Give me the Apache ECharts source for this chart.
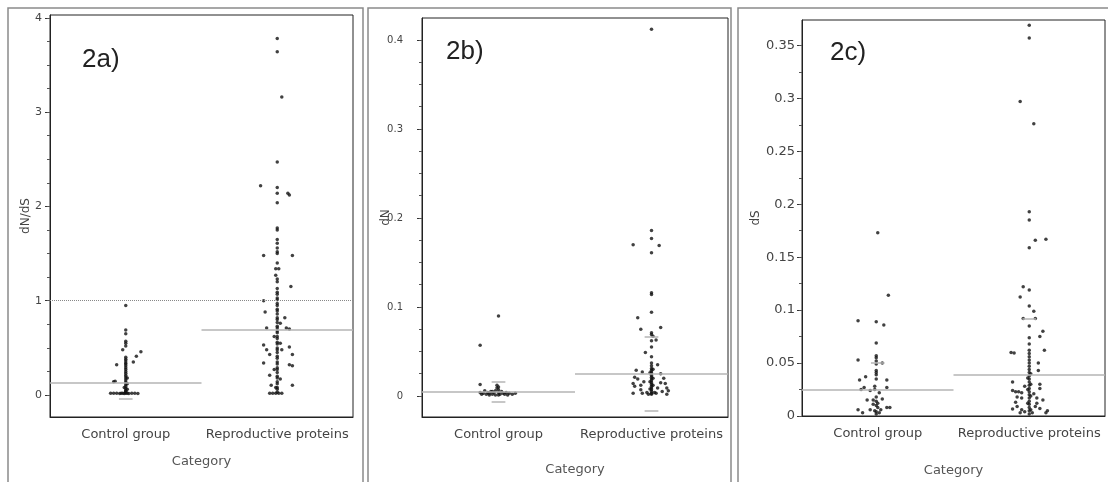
<!DOCTYPE html>
<html>
<head>
<meta charset="utf-8">
<script src="https://cdn.jsdelivr.net/npm/echarts@6/dist/echarts.min.js"></script>
<style>
html, body { margin: 0; background: #fff; }
#main { width: 1108px; height: 482px; }
</style>
</head>
<body>
<div id="main"></div>
<script>
const categories = ["Control group", "Reproductive proteins"];

// each point: [horizontal jitter from the category centre, value]
const ctrlA = [
  [0,0.95],[0,0.69],[0,0.65],[0,0.57],[0,0.55],[0,0.52],[-0.02,0.48],[0.1,0.46],[0.07,0.41],[0.05,0.35],[-0.06,0.32],
  [0,0.40],[0,0.38],[0,0.36],[0,0.34],[0,0.33],[0,0.31],[0,0.29],[0,0.27],[0,0.25],[0,0.23],[0,0.21],[0,0.19],
  [0,0.17],[0,0.15],[0,0.13],[0,0.11],[0,0.09],[0,0.07],[0,0.05],[0,0.04],[0,0.03],
  [0.01,0.18],[0.01,0.12],[-0.01,0.08],[0.01,0.06],[-0.08,0.14],[-0.07,0.145],
  [-0.1,0.018],[-0.08,0.018],[-0.06,0.018],[-0.04,0.016],[-0.03,0.02],[-0.02,0.018],[-0.01,0.015],
  [0,0.018],[0.01,0.02],[0.02,0.016],[0.04,0.018],[0.06,0.018],[0.08,0.017]
];
const repA = [
  [0,3.78],[0,3.64],[0.03,3.16],[0,2.47],[-0.11,2.22],[0,2.2],[0,2.14],[0.07,2.14],[0.08,2.12],[0,2.04],
  [0,1.77],[0,1.75],[0,1.65],[0,1.61],[0,1.56],[0,1.52],[0,1.5],[-0.09,1.48],[0.1,1.48],[0,1.4],
  [-0.01,1.34],[0.01,1.34],[-0.01,1.27],[0,1.23],[0,1.2],[0.09,1.15],
  [0,1.13],[0,1.09],[0,1.07],[0,1.03],[0,1.01],[0,0.97],[0,0.95],[0,0.91],[0,0.89],[0,0.86],[0,0.82],[0,0.8],
  [0,0.77],[0,0.73],[0,0.71],[0,0.68],[0,0.66],[0,0.62],[0,0.6],[0,0.56],[0,0.54],[0,0.5],[0,0.48],[0,0.45],
  [0,0.41],[0,0.39],[0,0.35],[0,0.33],[0,0.29],[0,0.27],[0,0.24],[0,0.2],[0,0.18],[0,0.14],[0,0.12],[0,0.08],
  [0,0.06],[0,0.03],
  [-0.09,1.0],[-0.08,0.88],[0.05,0.82],[-0.07,0.71],[0.06,0.71],[0.08,0.7],[-0.09,0.53],[-0.07,0.48],
  [0.08,0.51],[0.03,0.48],[0.1,0.43],[-0.05,0.43],[-0.09,0.34],[0.08,0.32],[0.1,0.31],[-0.05,0.21],
  [-0.04,0.105],[0.1,0.105],[0.02,0.76],[-0.02,0.62],[0.02,0.55],[-0.02,0.27],[0.02,0.17],[-0.01,0.08],
  [-0.05,0.02],[-0.03,0.02],[-0.01,0.02],[0.01,0.02],[0.03,0.02]
];
const ctrlB = [
  [0,0.090],[-0.12,0.057],[-0.12,0.013],
  [-0.12,0.004],[-0.1,0.003],[-0.09,0.006],[-0.08,0.002],[-0.07,0.004],[-0.06,0.003],[-0.05,0.005],
  [-0.04,0.002],[-0.03,0.004],[-0.02,0.006],[-0.01,0.009],[-0.01,0.012],[0,0.010],[0,0.007],[0,0.004],
  [0.01,0.002],[0.02,0.005],[0.03,0.003],[0.04,0.002],[0.05,0.004],[0.07,0.003],[0.09,0.002],[0.11,0.003],
  [-0.02,0.001],[0,0.001],[-0.06,0.001],[0.06,0.001],[-0.04,0.005],[-0.11,0.002]
];
const repB = [
  [0,0.412],[0,0.186],[0,0.177],[-0.12,0.170],[0.05,0.169],[0,0.161],[0,0.116],[0,0.114],[0,0.094],
  [-0.09,0.088],[-0.07,0.075],[0.06,0.077],[0,0.071],[0,0.069],[0.01,0.067],[0.03,0.063],[0,0.062],
  [0,0.055],[-0.04,0.049],[0,0.044],[0,0.037],
  [0,0.034],[0,0.031],[0,0.029],[0,0.027],[0,0.025],[0,0.023],[0,0.021],[0,0.019],[0,0.017],[0,0.015],
  [0,0.013],[0,0.011],[0,0.009],[0,0.007],[0,0.005],[0,0.003],[0.01,0.030],[-0.01,0.026],[0.01,0.02],
  [-0.01,0.016],[0.01,0.012],[-0.01,0.008],[0.02,0.004],[-0.02,0.002],
  [0.04,0.035],[-0.1,0.029],[-0.06,0.027],[0.06,0.025],[-0.11,0.021],[-0.09,0.019],[0.08,0.020],
  [-0.12,0.014],[-0.11,0.011],[-0.07,0.012],[-0.05,0.016],[0.06,0.015],[0.09,0.014],[0.1,0.009],
  [0.04,0.009],[-0.07,0.007],[-0.12,0.003],[-0.06,0.003],[-0.03,0.004],[0.03,0.003],[0.07,0.005],
  [0.11,0.006],[0.1,0.002],[0,0.002]
];
const ctrlC = [
  [0,0.173],[0.07,0.114],[-0.13,0.090],[-0.01,0.089],[0.04,0.086],[-0.01,0.069],[-0.13,0.053],
  [-0.01,0.057],[-0.01,0.055],[-0.01,0.052],[-0.01,0.049],[0.03,0.050],[-0.01,0.043],[-0.01,0.041],
  [-0.01,0.039],[-0.01,0.035],[-0.12,0.034],[-0.08,0.037],[0.06,0.034],[0.06,0.027],[-0.11,0.025],
  [-0.09,0.027],[-0.05,0.024],[-0.02,0.025],[-0.02,0.028],[0.01,0.022],[-0.07,0.015],[-0.03,0.015],
  [-0.01,0.014],[0.03,0.016],[-0.13,0.006],[-0.1,0.003],[-0.05,0.006],[-0.02,0.005],[-0.01,0.010],
  [0.06,0.008],[0.08,0.008],[-0.01,0.004],[0,0.012],[-0.01,0.018],[0,0.008],[-0.01,0.002],
  [0.01,0.003],[-0.03,0.011],[0.02,0.006]
];
const repC = [
  [0,0.369],[0,0.357],[-0.06,0.297],[0.03,0.276],[0,0.193],[0,0.185],[0.04,0.166],[0.11,0.167],
  [0,0.159],[-0.04,0.122],[0,0.119],[-0.06,0.1125],[0,0.104],[0.03,0.099],[-0.04,0.092],[0.04,0.092],
  [0,0.085],[0.09,0.080],[0.07,0.075],[0,0.074],[0,0.068],[0.1,0.062],[-0.12,0.060],[-0.1,0.0595],
  [0.06,0.050],[0.06,0.043],
  [0,0.062],[0,0.059],[0,0.056],[0,0.053],[0,0.050],[0,0.047],[0,0.044],[0,0.041],[0,0.038],[0,0.035],
  [0,0.032],[0,0.029],[0,0.026],[0,0.023],[0,0.020],[0,0.017],[0,0.014],[0,0.011],[0,0.008],[0,0.005],
  [0,0.002],[0.01,0.04],[-0.01,0.036],[0.01,0.03],[-0.01,0.025],[0.01,0.019],[-0.01,0.012],[0.01,0.006],
  [-0.11,0.032],[-0.11,0.024],[-0.09,0.023],[-0.07,0.023],[-0.05,0.022],[0.07,0.030],[0.07,0.026],
  [-0.08,0.018],[-0.05,0.017],[0.05,0.017],[0.09,0.015],[-0.11,0.0065],[-0.08,0.009],[0.04,0.009],
  [0.07,0.007],[0.12,0.005],[-0.03,0.004],[0.02,0.003],[0.11,0.003],[-0.05,0.006],[-0.09,0.013],
  [0.05,0.012],[-0.06,0.003],[0.03,0.021],[-0.03,0.028]
];

// group means (control, reproductive)
const meansA = [0.135, 0.69];
const meansB = [0.005, 0.0247];
const meansC = [0.025, 0.039];
// short grey dashes: [category index, value]
const dashesA = [[0, -0.04]];
const dashesB = [[0, 0.016], [0, -0.006], [1, 0.067], [1, -0.0165]];
const dashesC = [[0, 0.05], [1, 0.092]];

// y ranges and tick values
const rangeA = [-0.233, 4.03];
const rangeB = [-0.0236, 0.4247];
const rangeC = [0, 0.374];
const labelsA = [0, 1, 2, 3, 4];
const labelsB = [0, 0.1, 0.2, 0.3, 0.4];
const labelsC = [0, 0.05, 0.1, 0.15, 0.2, 0.25, 0.3, 0.35];
const minorA = [0,0.25,0.5,0.75,1,1.25,1.5,1.75,2,2.25,2.5,2.75,3,3.25,3.5,3.75,4];
const minorB = [0,0.025,0.05,0.075,0.1,0.125,0.15,0.175,0.2,0.225,0.25,0.275,0.3,0.325,0.35,0.375,0.4];
const minorC = [0,0.025,0.05,0.075,0.1,0.125,0.15,0.175,0.2,0.225,0.25,0.275,0.3,0.325,0.35];

const panels = [
  { tag: "2a)", yName: "dN/dS", ctrl: ctrlA, rep: repA, means: meansA, dashes: dashesA,
    range: rangeA, labels: labelsA, minor: minorA, refLine: 1,
    grid: { left: 50, top: 15, width: 303, height: 402 },
    yLabelMargin: 8, yNameGap: 18, xNameGap: 38, tagPos: [82, 47], yFont: 11 },
  { tag: "2b)", yName: "dN", ctrl: ctrlB, rep: repB, means: meansB, dashes: dashesB,
    range: rangeB, labels: labelsB, minor: minorB, refLine: null,
    grid: { left: 422, top: 18, width: 306, height: 399 },
    yLabelMargin: 19, yNameGap: 30, xNameGap: 46, tagPos: [446, 39], yFont: 10 },
  { tag: "2c)", yName: "dS", ctrl: ctrlC, rep: repC, means: meansC, dashes: dashesC,
    range: rangeC, labels: labelsC, minor: minorC, refLine: null,
    grid: { left: 802, top: 20, width: 303, height: 398 },
    yLabelMargin: 7, yNameGap: 40, xNameGap: 48, tagPos: [830, 40], yFont: 13 }
];

const grids = [], xAxes = [], yAxes = [], series = [], graphics = [];

// scanned panel frames
[[8, 8, 355], [368, 8, 363], [738, 8, 380]].forEach(function (f) {
  graphics.push({ type: "rect", shape: { x: f[0], y: f[1], width: f[2], height: 490 },
    style: { fill: null, stroke: "#8a8a8a", lineWidth: 1.5 }, silent: true });
});

panels.forEach(function (p, i) {
  grids.push(Object.assign({ show: true, borderColor: "#222", borderWidth: 1, backgroundColor: "#fff" }, p.grid));

  xAxes.push({
    type: "category", gridIndex: i, data: categories, boundaryGap: true, position: "bottom",
    axisLine: { onZero: false, lineStyle: { color: "#222" } },
    axisTick: { length: 4, lineStyle: { color: "#222" } },
    axisLabel: { fontSize: 13, color: "#444", margin: 11, interval: 0, hideOverlap: false },
    name: "Category", nameLocation: "middle", nameGap: p.xNameGap, nameMoveOverlap: false,
    nameTextStyle: { fontSize: 13, color: "#555" }
  });
  xAxes.push({ type: "value", gridIndex: i, min: -0.5, max: 1.5, show: false });

  yAxes.push({
    type: "value", gridIndex: i, min: p.range[0], max: p.range[1], position: "left",
    splitLine: { show: false },
    axisLine: { show: true, onZero: false, lineStyle: { color: "#222" } },
    axisTick: { show: true, length: 5, customValues: p.labels, lineStyle: { color: "#333" } },
    axisLabel: { customValues: p.labels, fontSize: p.yFont, color: "#444", margin: p.yLabelMargin },
    name: p.yName, nameLocation: "middle", nameGap: p.yNameGap, nameRotate: 90, nameMoveOverlap: false,
    nameTextStyle: { fontSize: 12, color: "#444" }
  });
  yAxes.push({
    type: "value", gridIndex: i, min: p.range[0], max: p.range[1], position: "left", offset: 0,
    splitLine: { show: false }, axisLine: { show: false, onZero: false },
    axisTick: { show: true, length: 3, customValues: p.minor, lineStyle: { color: "#555" } },
    axisLabel: { show: false }
  });

  const xi = 2 * i + 1, yi = 2 * i;
  const markData = [];
  p.means.forEach(function (m, c) {
    markData.push([{ coord: [c - 0.5, m] }, { coord: [c + 0.5, m] }]);
  });
  p.dashes.forEach(function (d) {
    markData.push([{ coord: [d[0] - 0.045, d[1]] }, { coord: [d[0] + 0.045, d[1]] }]);
  });
  if (p.refLine !== null) {
    markData.push([{ coord: [-0.5, p.refLine], lineStyle: { type: "dotted", color: "#888", width: 1 } },
                   { coord: [1.5, p.refLine] }]);
  }

  series.push({
    type: "scatter", xAxisIndex: xi, yAxisIndex: yi, symbolSize: 3.5,
    itemStyle: { color: "#111" },
    data: p.ctrl.map(function (d) { return [d[0], d[1]]; }),
    markLine: { silent: true, symbol: "none", label: { show: false },
      lineStyle: { color: "#b4b4b4", width: 1.5, type: "solid" }, data: markData },
    z: 3
  });
  series.push({
    type: "scatter", xAxisIndex: xi, yAxisIndex: yi, symbolSize: 3.5,
    itemStyle: { color: "#111" },
    data: p.rep.map(function (d) { return [1 + d[0], d[1]]; }),
    z: 3
  });

  graphics.push({ type: "text", x: p.tagPos[0], y: p.tagPos[1], silent: true,
    style: { text: p.tag, font: "26px 'Liberation Sans', Arial, sans-serif", fill: "#222" } });
});

const chart = echarts.init(document.getElementById("main"));
chart.setOption({
  animation: false,
  backgroundColor: "#fff",
  textStyle: { fontFamily: "DejaVu Sans" },
  grid: grids,
  xAxis: xAxes,
  yAxis: yAxes,
  series: series,
  graphic: graphics
});
window.onresize = function () { chart.resize(); };
</script>
</body>
</html>
